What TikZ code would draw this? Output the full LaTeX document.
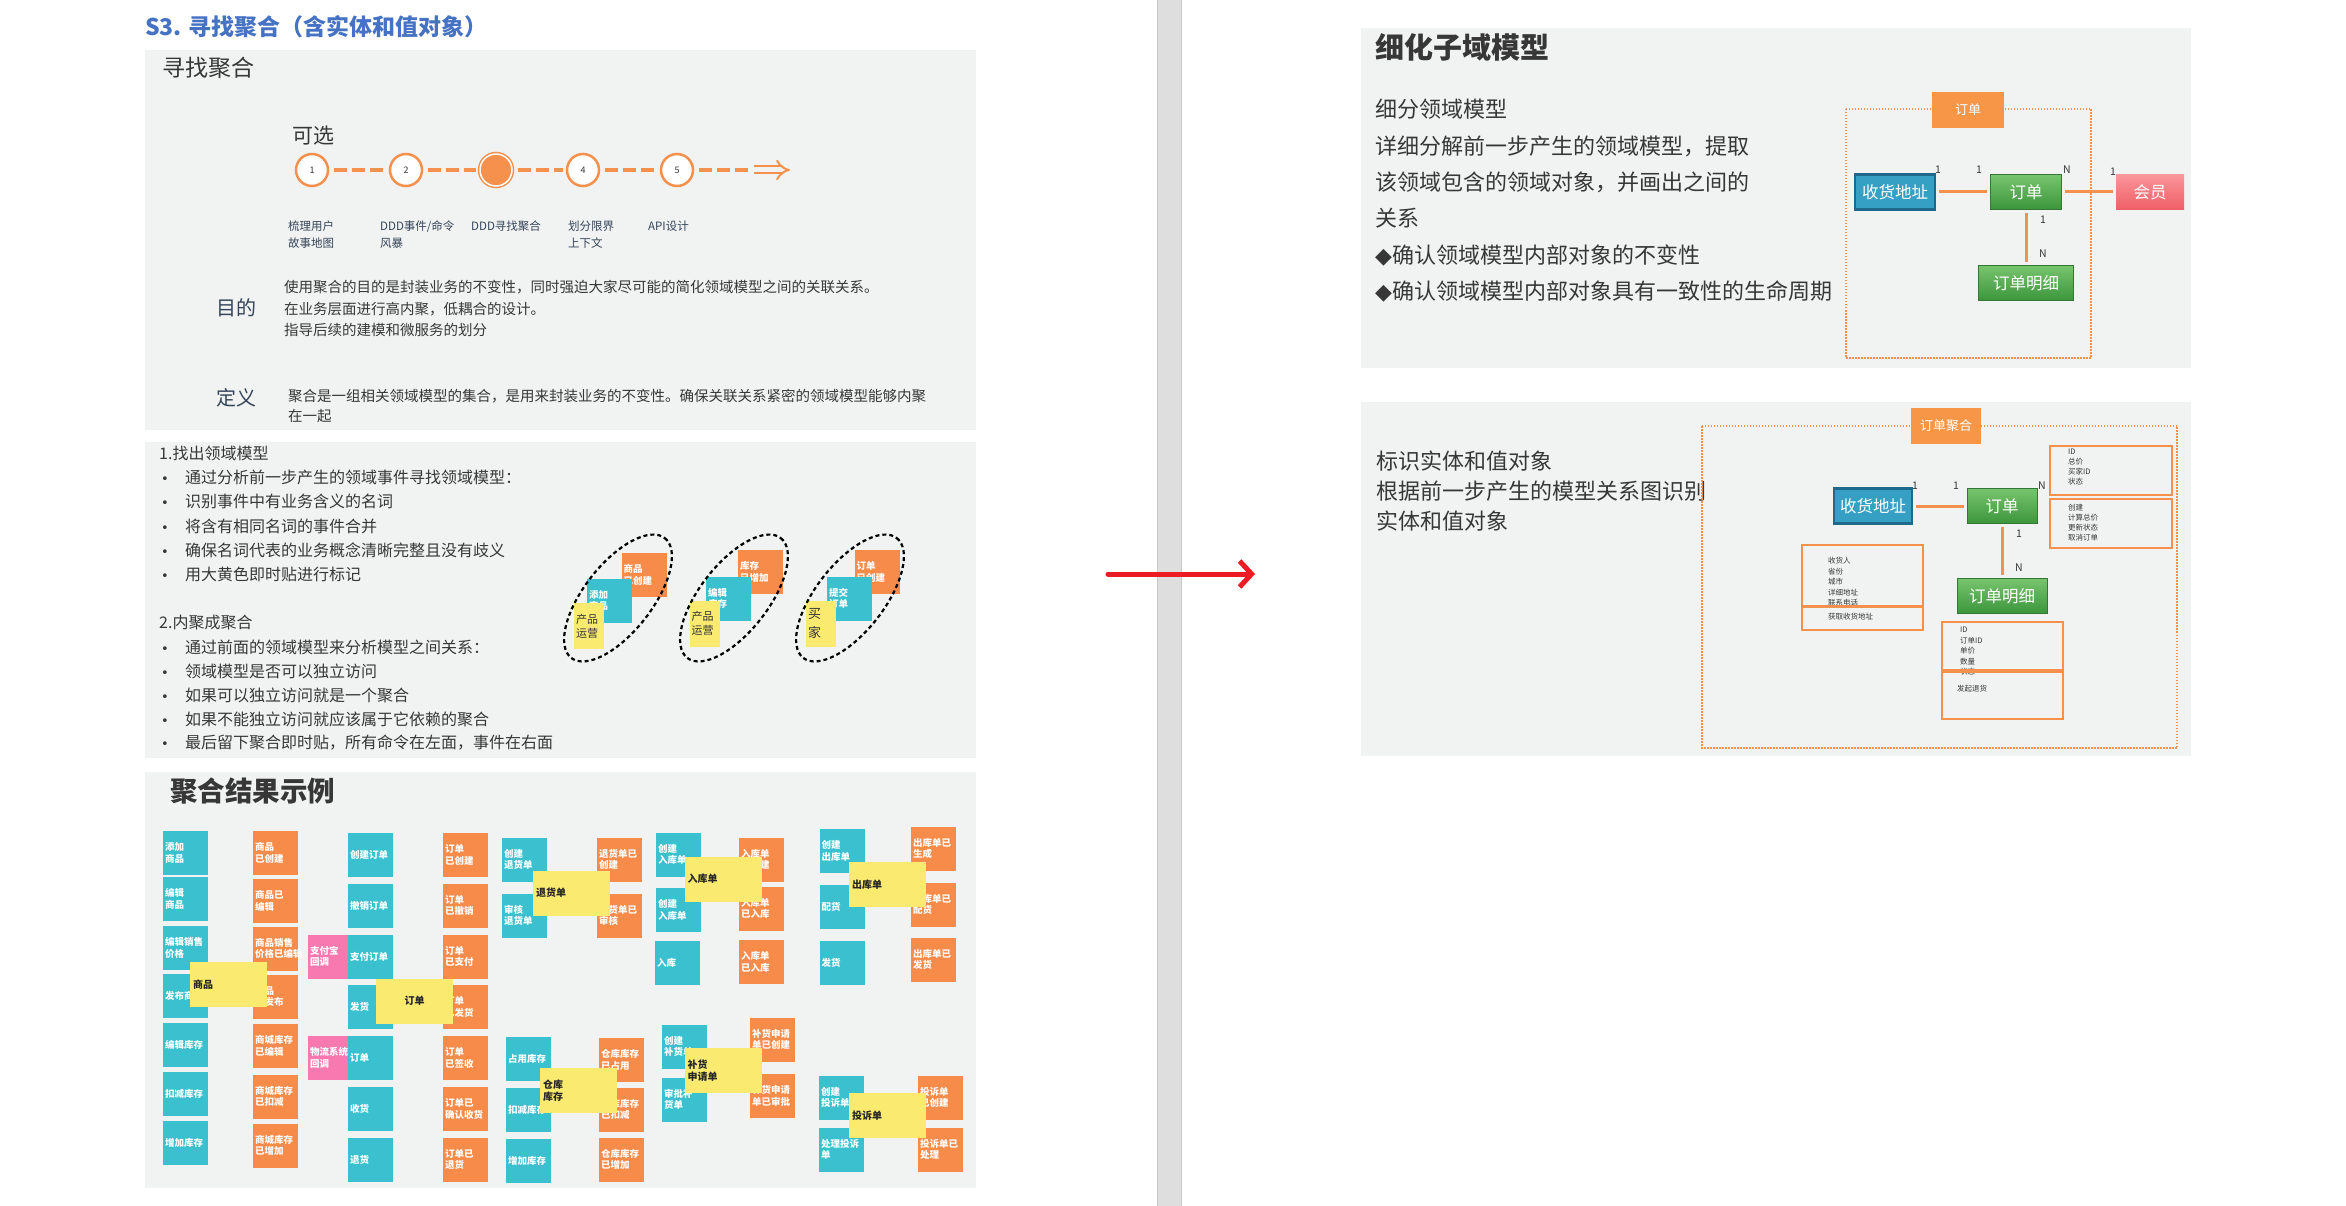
\documentclass[tikz,border=0pt]{standalone}
\usepackage{fontspec}
\setmainfont{Noto Sans CJK SC}
\newfontfamily\dejavu{DejaVu Sans}
\usetikzlibrary{arrows.meta,positioning}
\definecolor{pagegray}{RGB}{241,242,242}
\definecolor{divgray}{RGB}{222,222,222}
\definecolor{divedge}{RGB}{200,200,200}
\definecolor{titleblue}{RGB}{70,114,196}
\definecolor{textdark}{RGB}{55,55,55}
\definecolor{slate}{RGB}{52,68,88}
\definecolor{lineorange}{RGB}{245,145,77}
\definecolor{tagorange}{RGB}{247,150,70}
\definecolor{noteorange}{RGB}{247,139,74}
\definecolor{noteteal}{RGB}{58,192,206}
\definecolor{noteyellow}{RGB}{250,234,112}
\definecolor{notepink}{RGB}{248,121,176}
\definecolor{addrblue}{RGB}{53,160,196}
\definecolor{addrdark}{RGB}{30,105,140}
\definecolor{greentop}{RGB}{120,196,110}
\definecolor{greenbot}{RGB}{60,150,60}
\definecolor{greendark}{RGB}{50,120,50}
\definecolor{redtop}{RGB}{250,150,155}
\definecolor{redbot}{RGB}{238,95,102}
\definecolor{arrowred}{RGB}{237,28,36}
\newcommand{\fsz}[2]{\fontsize{#1}{#2}\selectfont}
\newcommand{\bul}{\makebox[24pt][l]{\dejavu\fsz{13}{13}•}}
\newcommand{\dia}{{\dejavu ◆}}

\tikzset{
  sticky/.style={minimum width=45pt, minimum height=44pt, text width=41pt, inner sep=2pt, align=left, text=white, font=\fsz{9.5}{11.5}\bfseries},
  cmd/.style={sticky, fill=noteteal},
  evt/.style={sticky, fill=noteorange},
  ext/.style={sticky, fill=notepink, minimum width=40pt, text width=36pt},
  agg/.style={fill=noteyellow, minimum width=77pt, minimum height=45pt, text width=71pt, inner sep=3pt, align=left, text=black!85, font=\fsz{10}{12}\bfseries},
  role/.style={fill=noteyellow, minimum width=30pt, minimum height=46pt, text width=26pt, inner sep=2pt, align=left, text=black!80, font=\fsz{11}{14}},
  ringdash/.style={draw=black, line width=2.2pt, dash pattern=on 4pt off 3pt},
  stepcirc/.style={circle, draw=lineorange, line width=2.5pt, fill=white, minimum size=32pt, inner sep=0pt, text=textdark, font=\fsz{9}{10}},
  stepcur/.style={stepcirc, fill=lineorange, double=white, double distance=1.5pt, line width=1.5pt},
  tline/.style={draw=lineorange, line width=3.5pt, dash pattern=on 13pt off 5pt, shorten <=5pt, shorten >=3pt},
  steplbl/.style={anchor=north west, align=left, inner sep=0pt, text=slate, font=\fsz{11.5}{17}},
  para/.style={anchor=north west, align=left, inner sep=0pt, text=textdark},
  head/.style={anchor=west, inner sep=0pt, text=textdark},
  ent/.style={minimum height=35pt, inner sep=2pt, text=white, font=\fsz{16.5}{18}},
  addrbox/.style={ent, fill=addrblue, draw=addrdark, line width=2.5pt},
  greenbox/.style={ent, top color=greentop, bottom color=greenbot, draw=greendark, line width=0.8pt},
  redbox/.style={ent, top color=redtop, bottom color=redbot},
  taglbl/.style={fill=tagorange, text=white, font=\fsz{13}{15}, minimum width=70pt, minimum height=36pt},
  aggframe/.style={draw=lineorange, line width=2.5pt, dash pattern=on 1.5pt off 1.5pt},
  rel/.style={draw=lineorange, line width=3pt, shorten <=3pt, shorten >=3pt},
  mult/.style={inner sep=0pt, text=textdark, font=\fsz{10.5}{12}},
  attrbox/.style={draw=lineorange, line width=2.5pt, inner sep=0pt},
  attrtxt/.style={anchor=north west, align=left, inner sep=0pt, text=textdark, font=\fsz{7.5}{10}}
}

\begin{document}
\begin{tikzpicture}[x=1pt,y=-1pt]
\useasboundingbox (0,0) rectangle (2346,1206);
\fill[white] (0,0) rectangle (2346,1206);

% page divider
\fill[divgray] (1157,0) rectangle (1181,1206);
\draw[divedge, line width=1pt] (1157,0) -- (1157,1206) (1181,0) -- (1181,1206);

% left page
\node[anchor=west, inner sep=0pt, text=titleblue, font=\fsz{23}{26}\bfseries] (title) at (145,27) {S3. 寻找聚合（含实体和值对象）};
\fill[pagegray] (145,50) rectangle (976,430);
\fill[pagegray] (145,442) rectangle (976,758);
\fill[pagegray] (145,772) rectangle (976,1188);

\node[head, font=\fsz{23}{26}] (findhead) at (162,68) {寻找聚合};
\node[head, font=\fsz{21}{24}] (optional) at (292,136) {可选};

\node[stepcirc] (c1) at (312,170) {1};
\node[stepcirc] (c2) at (406,170) {2};
\node[stepcur] (c3) at (496,170) {};
\node[stepcirc] (c4) at (583,170) {4};
\node[stepcirc] (c5) at (677,170) {5};
\coordinate (darr) at (754,170);
\coordinate (dtip) at (790,170);
\draw[tline] (c1) -- (c2);
\draw[tline] (c2) -- (c3);
\draw[tline] (c3) -- (c4);
\draw[tline] (c4) -- (c5);
\draw[tline] (c5) -- (darr);
\draw[lineorange, line width=2pt, double=pagegray, double distance=5pt, -{Implies}] (darr) -- (dtip);

\node[steplbl] (s1) at (288,221) {梳理用户\\故事地图};
\node[steplbl] (s2) at (380,221) {DDD事件/命令\\风暴};
\node[steplbl] (s3) at (471,221) {DDD寻找聚合};
\node[steplbl] (s4) at (568,221) {划分限界\\上下文};
\node[steplbl] (s5) at (648,221) {API设计};

\node[head, text=slate, font=\fsz{20}{22}] (aim) at (216,308) {目的};
\node[para, font=\fsz{14.5}{21.5}] (aimtxt) at (284,280) {使用聚合的目的是封装业务的不变性，同时强迫大家尽可能的简化领域模型之间的关联关系。\\在业务层面进行高内聚，低耦合的设计。\\指导后续的建模和微服务的划分};
\node[head, text=slate, font=\fsz{20}{22}] (defn) at (216,398) {定义};
\node[para, font=\fsz{14.5}{20}] (deftxt) at (288,389) {聚合是一组相关领域模型的集合，是用来封装业务的不变性。确保关联关系紧密的领域模型能够内聚\\在一起};

\node[para, font=\fsz{16}{24}] (find) at (159,446) {1.找出领域模型};
\node[para, font=\fsz{16}{24.2}] (findlist) at (161,470) {\bul 通过分析前一步产生的领域事件寻找领域模型：\\\bul 识别事件中有业务含义的名词\\\bul 将含有相同名词的事件合并\\\bul 确保名词代表的业务概念清晰完整且没有歧义\\\bul 用大黄色即时贴进行标记};
\node[para, font=\fsz{16}{24}] (merge) at (159,615) {2.内聚成聚合};
\node[para, font=\fsz{16}{23.8}] (mergelist) at (161,640) {\bul 通过前面的领域模型来分析模型之间关系：\\\bul 领域模型是否可以独立访问\\\bul 如果可以独立访问就是一个聚合\\\bul 如果不能独立访问就应该属于它依赖的聚合\\\bul 最后留下聚合即时贴，所有命令在左面，事件在右面};

\node[evt] (ea1) at (644,575) {商品\\已创建};
\node[cmd] (ea2) at (609.5,600.5) {添加\\商品};
\node[role] (ea3) at (589,626) {产品\\运营};
\node[evt] (eb1) at (760.5,572) {库存\\已增加};
\node[cmd] (eb2) at (728.5,598.5) {编辑\\库存};
\node[role] (eb3) at (704.5,623.5) {产品\\运营};
\node[evt] (ec1) at (877,572) {订单\\已创建};
\node[cmd] (ec2) at (849.5,598.5) {提交\\订单};
\node[role, font=\fsz{13}{19}] (ec3) at (821,623.5) {买\\家};
\draw[ringdash, rotate around={52:(618,598)}] (618,598) ellipse [x radius=76, y radius=34];
\draw[ringdash, rotate around={52:(734,598)}] (734,598) ellipse [x radius=76, y radius=34];
\draw[ringdash, rotate around={52:(850,598)}] (850,598) ellipse [x radius=76, y radius=34];

\node[head, font=\fsz{27.5}{30}\bfseries] (result) at (170,791) {聚合结果示例};

% goods
\node[cmd] (p1) at (185.5,853) {添加\\商品};
\node[cmd] (p2) at (185.5,899) {编辑\\商品};
\node[cmd] (p3) at (185.5,948) {编辑销售\\价格};
\node[cmd] (p4) at (185.5,995.5) {发布商品};
\node[cmd] (p5) at (185.5,1044.5) {编辑库存};
\node[cmd] (p6) at (185.5,1094) {扣减库存};
\node[cmd] (p7) at (185.5,1143) {增加库存};
\node[evt] (pe1) at (275.5,853) {商品\\已创建};
\node[evt] (pe2) at (275.5,901) {商品已\\编辑};
\node[evt] (pe3) at (275.5,948.5) {商品销售\\价格已编辑};
\node[evt] (pe4) at (275.5,996.5) {商品\\已发布};
\node[evt] (pe5) at (275.5,1046) {商城库存\\已编辑};
\node[evt] (pe6) at (275.5,1096.5) {商城库存\\已扣减};
\node[evt] (pe7) at (275.5,1145.5) {商城库存\\已增加};
\node[agg] (pagg) at (228.5,984.5) {商品};

% order
\node[ext] (ox1) at (328,956.5) {支付宝\\回调};
\node[ext] (ox2) at (328,1058) {物流系统\\回调};
\node[cmd] (o1) at (370.5,855) {创建订单};
\node[cmd] (o2) at (370.5,905.5) {撤销订单};
\node[cmd] (o3) at (370.5,956.5) {支付订单};
\node[cmd] (o4) at (370.5,1007) {发货};
\node[cmd] (o5) at (370.5,1058) {订单};
\node[cmd] (o6) at (370.5,1109) {收货};
\node[cmd] (o7) at (370.5,1159.5) {退货};
\node[evt] (oe1) at (465.5,855) {订单\\已创建};
\node[evt] (oe2) at (465.5,905.5) {订单\\已撤销};
\node[evt] (oe3) at (465.5,956.5) {订单\\已支付};
\node[evt] (oe4) at (465.5,1007) {订单\\已发货};
\node[evt] (oe5) at (465.5,1058) {订单\\已签收};
\node[evt] (oe6) at (465.5,1109) {订单已\\确认收货};
\node[evt] (oe7) at (465.5,1159.5) {订单已\\退货};
\node[agg, align=center] (oagg) at (414.5,1001) {订单};

% return
\node[cmd] (r1) at (524.5,859.5) {创建\\退货单};
\node[cmd] (r2) at (524.5,915.5) {审核\\退货单};
\node[evt] (re1) at (619.5,859.5) {退货单已\\创建};
\node[evt] (re2) at (619.5,915.5) {退货单已\\审核};
\node[agg] (ragg) at (571.5,893) {退货单};

% stock
\node[cmd] (w1) at (528.5,1059) {占用库存};
\node[cmd] (w2) at (528.5,1109.5) {扣减库存};
\node[cmd] (w3) at (528.5,1160.5) {增加库存};
\node[evt] (we1) at (621.5,1060) {仓库库存\\已占用};
\node[evt] (we2) at (621.5,1109.5) {仓库库存\\已扣减};
\node[evt] (we3) at (621.5,1159.5) {仓库库存\\已增加};
\node[agg] (wagg) at (578.5,1090.5) {仓库\\库存};

% inbound
\node[cmd] (i1) at (678.5,854.5) {创建\\入库单};
\node[cmd] (i2) at (678.5,910) {创建\\入库单};
\node[cmd] (i3) at (677.5,962.5) {入库};
\node[evt] (ie1) at (761.5,859.5) {入库单\\已创建};
\node[evt] (ie2) at (761.5,908.5) {入库单\\已入库};
\node[evt] (ie3) at (761.5,962) {入库单\\已入库};
\node[agg] (iagg) at (723,879) {入库单};

% outbound
\node[cmd] (x1) at (842,851) {创建\\出库单};
\node[cmd] (x2) at (842,907) {配货};
\node[cmd] (x3) at (842,963) {发货};
\node[evt] (xe1) at (933.5,848.5) {出库单已\\生成};
\node[evt] (xe2) at (933.5,904.5) {出库单已\\配货};
\node[evt] (xe3) at (933.5,959.5) {出库单已\\发货};
\node[agg] (xagg) at (887.5,884.5) {出库单};

% restock
\node[cmd] (b1) at (684.5,1046.5) {创建\\补货单};
\node[cmd] (b2) at (684.5,1099.5) {审批补\\货单};
\node[evt] (be1) at (772.5,1039.5) {补货申请\\单已创建};
\node[evt] (be2) at (772.5,1096) {补货申请\\单已审批};
\node[agg] (bagg) at (723,1070.5) {补货\\申请单};

% complaint
\node[cmd] (t1) at (841.5,1097.5) {创建\\投诉单};
\node[cmd] (t2) at (841.5,1149.5) {处理投诉\\单};
\node[evt] (te1) at (940.5,1097.5) {投诉单\\已创建};
\node[evt] (te2) at (940.5,1149.5) {投诉单已\\处理};
\node[agg] (tagg) at (887.5,1115.5) {投诉单};

% red arrow
\coordinate (arrS) at (1108,574);
\coordinate (arrE) at (1255,574);
\draw[arrowred, line width=5pt, line cap=round, -{Straight Barb[length=12pt, width=26pt]}] (arrS) -- (arrE);

% right page
\fill[pagegray] (1361,28) rectangle (2191,368);
\fill[pagegray] (1361,402) rectangle (2191,756);

\node[head, font=\fsz{29}{32}\bfseries] (subhead) at (1375,47) {细化子域模型};
\node[para, font=\fsz{22}{36.4}] (subtxt) at (1375,99) {细分领域模型\\详细分解前一步产生的领域模型，提取\\该领域包含的领域对象，并画出之间的\\关系\\\dia 确认领域模型内部对象的不变性\\\dia 确认领域模型内部对象具有一致性的生命周期};

\draw[aggframe] (1846,109) rectangle (2091,358);
\node[taglbl, minimum width=72pt] (tagA) at (1968,110) {订单};
\node[addrbox, minimum width=80pt] (addrA) at (1895,192) {收货地址};
\node[greenbox, minimum width=71pt] (ordA) at (2026,192) {订单};
\node[redbox, minimum width=68pt] (memA) at (2150,192) {会员};
\node[greenbox, minimum width=95pt] (itemA) at (2026,283) {订单明细};
\draw[rel] (addrA) -- (ordA);
\draw[rel] (ordA) -- (memA);
\draw[rel] (ordA) -- (itemA);
\node[mult] (mA1) at (1938,170) {1};
\node[mult] (mA2) at (1979,170) {1};
\node[mult] (mA3) at (2067,170) {N};
\node[mult] (mA4) at (2113,172) {1};
\node[mult] (mA5) at (2043,220) {1};
\node[mult] (mA6) at (2043,254) {N};

\node[para, font=\fsz{22}{30}] (enttxt) at (1376,451) {标识实体和值对象\\根据前一步产生的模型关系图识别\\实体和值对象};

\draw[aggframe] (1702,426) rectangle (2177,748);
\node[taglbl] (tagB) at (1946,426) {订单聚合};
\node[addrbox, minimum width=78pt] (addrB) at (1873,506) {收货地址};
\node[greenbox, minimum width=70pt] (ordB) at (2002,506) {订单};
\node[greenbox, minimum width=90pt] (itemB) at (2002,596) {订单明细};
\draw[rel] (addrB) -- (ordB);
\draw[rel] (ordB) -- (itemB);
\node[mult] (mB1) at (1915,486) {1};
\node[mult] (mB2) at (1956,486) {1};
\node[mult] (mB3) at (2042,486) {N};
\node[mult] (mB4) at (2019,534) {1};
\node[mult] (mB5) at (2019,568) {N};

\node[attrtxt] (oatxt) at (2068,449) {ID\\总价\\买家ID\\状态};
\node[attrtxt] (ootxt) at (2068,504) {创建\\计算总价\\更新状态\\取消订单};
\node[attrtxt, font=\fsz{7.5}{10.5}] (aatxt) at (1828,557) {收货人\\省份\\城市\\详细地址\\联系电话};
\node[attrtxt, anchor=west] (aotxt) at (1828,617) {获取收货地址};
\node[attrtxt, font=\fsz{7.5}{10.5}] (iatxt) at (1960,627) {ID\\订单ID\\单价\\数量\\状态};
\node[attrtxt, anchor=west] (iotxt) at (1957,689) {发起退货};
\node[attrbox, minimum width=122pt, minimum height=49pt] (oattr) at (2111,470.5) {};
\node[attrbox, minimum width=122pt, minimum height=49pt] (oops) at (2111,523.5) {};
\node[attrbox, minimum width=121pt, minimum height=61pt] (aattr) at (1862.5,575.5) {};
\node[attrbox, minimum width=121pt, minimum height=23pt] (aops) at (1862.5,618.5) {};
\node[attrbox, minimum width=121pt, minimum height=48pt] (iattr) at (2002.5,646) {};
\node[attrbox, minimum width=121pt, minimum height=47pt] (iops) at (2002.5,695.5) {};
\end{tikzpicture}
\end{document}
